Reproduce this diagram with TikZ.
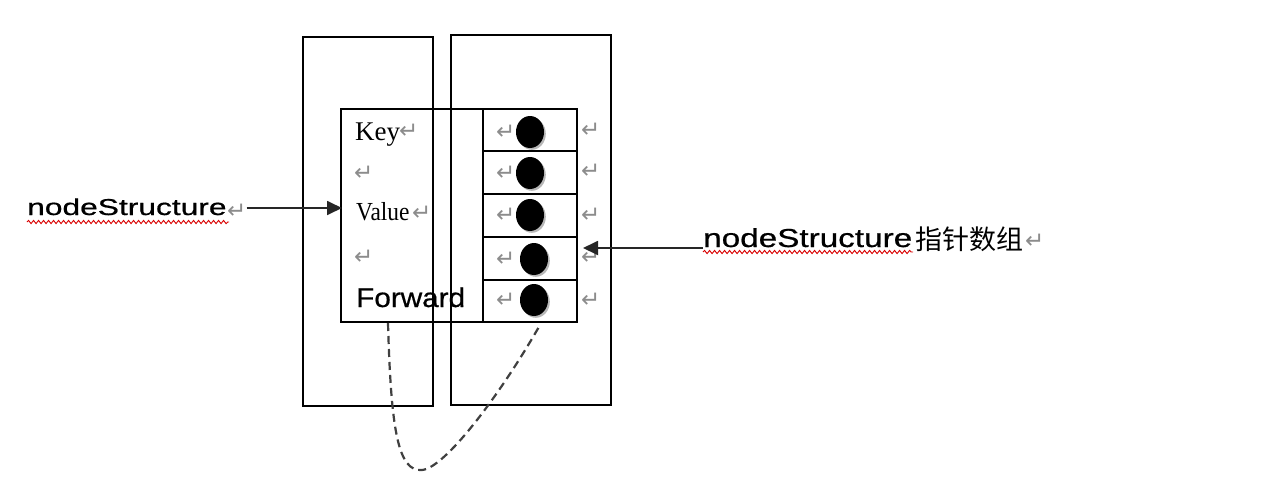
\documentclass[tikz,border=0pt]{standalone}
\usepackage{fontspec}
\setmainfont{Liberation Serif}
\newfontfamily\arialf[FakeBold=0.6]{Liberation Sans}
\newfontfamily\dvs{DejaVu Sans}
\newfontfamily\cjkf{Noto Sans CJK SC}
\usetikzlibrary{arrows.meta,decorations.pathmorphing,shapes.geometric,shadows}
\tikzset{
  box/.style={draw=black, line width=1.8pt, inner sep=0, fill=none},
  ret/.style={text=black!45, font=\dvs\fontsize{23}{23}\selectfont, inner sep=0},
  lbl/.style={inner sep=0, anchor=base west},
  dotnode/.style={ellipse, fill=black, minimum width=28, minimum height=32, inner sep=0,
    drop shadow={shadow xshift=1.8pt, shadow yshift=-1.8pt, fill=black!35, opacity=0.8}},
  ptr/.style={line width=1.8pt, draw=black!85, -{Triangle[length=15pt,width=14pt]}},
  squiggle/.style={draw=red!85!black, line width=0.9pt, decorate,
    decoration={snake, amplitude=1.6pt, segment length=5pt}},
  link/.style={draw=black!75, line width=2.2pt, dash pattern=on 8pt off 5pt}
}
\begin{document}
\begin{tikzpicture}[x=1pt,y=-1pt]
\useasboundingbox (0,0) rectangle (1270,496);
\fill[white] (0,0) rectangle (1270,496);
% tall rectangles
\node[box, minimum width=130, minimum height=369] (colA) at (368,221.5) {};
\node[box, minimum width=160, minimum height=370] (colB) at (531,220) {};
% structure box
\node[box, minimum width=236, minimum height=213] (struct) at (459,215.5) {};
\draw[line width=1.8pt] (483,109) -- (483,322);
\foreach \yy in {151,194,237,280} \draw[line width=1.8pt] (483,\yy) -- (577,\yy);
% left texts
\node[lbl, font=\fontsize{27}{27}\selectfont] (key) at (355,140) {Key};
\node[ret, anchor=west] (rk) at (399,131) {↵};
\node[ret, anchor=west] (r2) at (354,173) {↵};
\node[lbl, font=\fontsize{26}{26}\selectfont] (value) at (356,220) {\scalebox{0.9}[1]{Value}};
\node[ret, anchor=west] (rv) at (412,213) {↵};
\node[ret, anchor=west] (r4) at (354,257) {↵};
\node[lbl, font=\arialf\fontsize{27}{27}\selectfont] (fwd) at (356,307) {\scalebox{1.1}[1]{Forward}};
% dots and return marks in cells
\foreach \i/\xx/\yy/\ry in {1/530/132/130,2/530/173/171,3/530/215/215,4/534/259/257,5/534/300/300}{
  \node[ret, anchor=west] (cl\i) at (496,\yy) {↵};
  \node[dotnode] (dot\i) at (\xx,\yy) {};
  \node[ret, anchor=west] (cr\i) at (581,\ry) {↵};
}
% left label and arrow
\node[lbl, font=\arialf\fontsize{23}{23}\selectfont] (nsL) at (27,215) {\scalebox{1.38}[1]{nodeStructure}};
\node[ret, anchor=west] (rnL) at (227,211) {↵};
\coordinate (inL) at (342,208);
\draw[ptr] (rnL.east |- inL) -- (inL);
\draw[squiggle] (27,222) -- (229,222);
% right label and arrow
\node[lbl, font=\arialf\fontsize{26}{26}\selectfont] (nsR) at (703,247) {\scalebox{1.28}[1]{nodeStructure}};
\node[lbl, font=\cjkf\fontsize{27}{27}\selectfont] (cjkR) at (915,249) {指针数组};
\node[ret, anchor=west] (rnR) at (1025,241) {↵};
\coordinate (inR) at (583,248);
\draw[ptr] (nsR.west |- inR) -- (inR);
\draw[squiggle] (703,252) -- (913,252);
% dashed link
\coordinate (fs) at (388,323);
\coordinate (fe) at (540,325);
\draw[link] (fs) .. controls (391,430) and (398,472) .. (422,470)
                .. controls (445,468) and (500,395) .. (fe);
\end{tikzpicture}
\end{document}
